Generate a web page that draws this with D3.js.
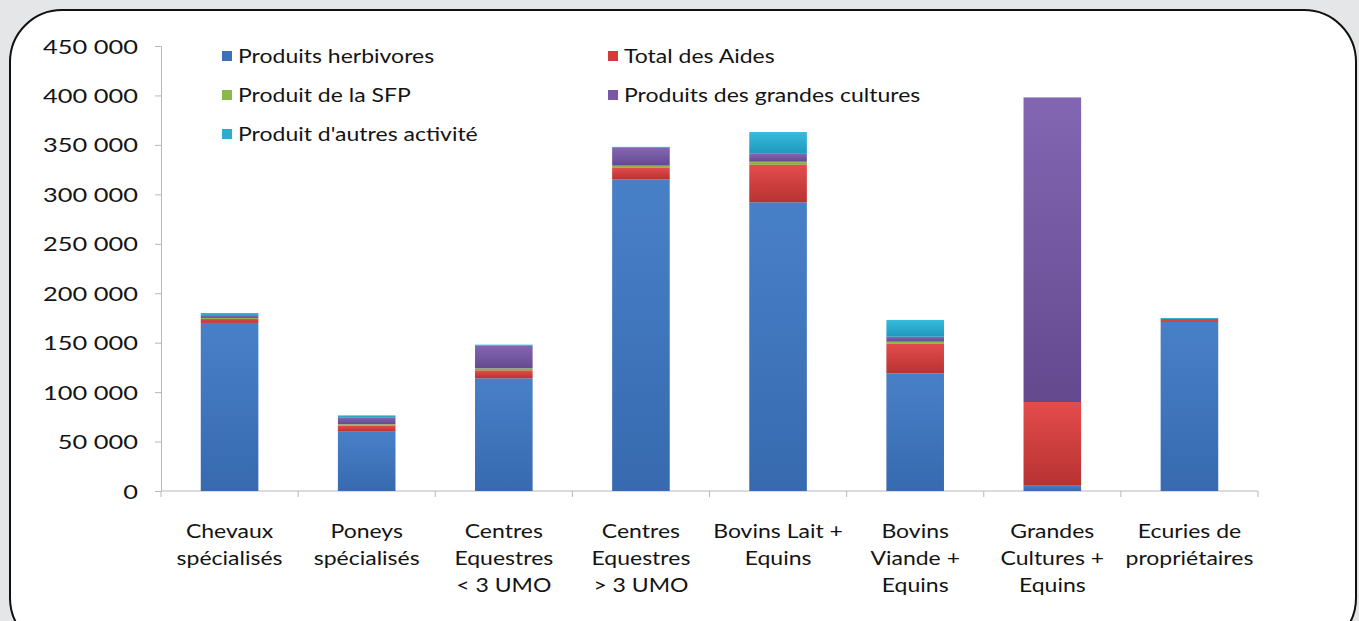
<!DOCTYPE html>
<html>
<head>
<meta charset="utf-8">
<script src="https://cdn.jsdelivr.net/npm/d3@7"></script>
<style>
  html, body { margin: 0; padding: 0; background: #e5e6e7; }
  svg { display: block; }
  text { font-family: Lato, "Noto Sans", sans-serif; fill: #141414; }
</style>
</head>
<body>
<script>
// ---- data (values in euros) ----
const categories = [
  ["Chevaux", "spécialisés"],
  ["Poneys", "spécialisés"],
  ["Centres", "Equestres", "< 3 UMO"],
  ["Centres", "Equestres", "> 3 UMO"],
  ["Bovins Lait +", "Equins"],
  ["Bovins", "Viande +", "Equins"],
  ["Grandes", "Cultures +", "Equins"],
  ["Ecuries de", "propriétaires"]
];
const produitsHerbivores = [170000, 60000, 114000, 315000, 292000, 119000, 6000, 171000];
const totalAides         = [4000, 6000, 8000, 12000, 38000, 30000, 84000, 2000];
const produitSFP         = [1000, 1500, 2000, 2000, 3000, 2000, 0, 0];
const produitsGrandesCultures = [2000, 7000, 23000, 18000, 8000, 5000, 308000, 1000];
const produitAutres      = [3000, 2000, 1000, 1000, 22000, 17000, 0, 1000];
const seriesNames = ["Produits herbivores", "Total des Aides", "Produit de la SFP",
                     "Produits des grandes cultures", "Produit d'autres activité"];
const yTicks = [0, 50000, 100000, 150000, 200000, 250000, 300000, 350000, 400000, 450000];

// ---- layout ----
const W = 1359, H = 621;
const SX = 1.15;      // horizontal text stretch (reference is stretched)
const SX_TICK = 1.27;
const plot = { left: 161, right: 1258, top: 46, bottom: 491 };

const keys = ["herb", "aides", "sfp", "gc", "autres"];
const colors = {
  herb:   ["#4880c8", "#376aaf"],
  aides:  ["#e44c4c", "#b83232"],
  sfp:    ["#9cc45a", "#78a038"],
  gc:     ["#8266b2", "#65498f"],
  autres: ["#36bcdc", "#1f98be"]
};
const swatch = { herb: "#3d70b8", aides: "#d43a3a", sfp: "#8ab84a", gc: "#7a58a8", autres: "#2aaed0" };

const table = categories.map((c, i) => ({
  cat: i,
  herb: produitsHerbivores[i], aides: totalAides[i], sfp: produitSFP[i],
  gc: produitsGrandesCultures[i], autres: produitAutres[i]
}));

const svg = d3.select("body").append("svg").attr("width", W).attr("height", H);
const defs = svg.append("defs");
keys.forEach(k => {
  const g = defs.append("linearGradient").attr("id", "g-" + k)
    .attr("x1", 0).attr("y1", 0).attr("x2", 0).attr("y2", 1);
  g.append("stop").attr("offset", "0%").attr("stop-color", colors[k][0]);
  g.append("stop").attr("offset", "100%").attr("stop-color", colors[k][1]);
});

// panel
svg.append("rect").attr("x", 0).attr("y", 0).attr("width", W).attr("height", H).attr("fill", "#e5e6e7");
svg.append("rect").attr("x", 10).attr("y", 10).attr("width", 1346).attr("height", 640)
  .attr("rx", 52).attr("ry", 52).attr("fill", "#ffffff").attr("stroke", "#111").attr("stroke-width", 2);

const x = d3.scaleBand().domain(categories.map((c, i) => i))
  .range([plot.left, plot.right]).paddingInner(0.58).paddingOuter(0.29);
const xOuter = d3.scaleBand().domain(categories.map((c, i) => i)).range([plot.left, plot.right]);
const y = d3.scaleLinear().domain([0, 450000]).range([plot.bottom, plot.top]);

const fmt = v => d3.format(",")(v).replace(/,/g, " ");

// y axis
const yAxis = svg.append("g").attr("transform", `translate(${plot.left},0)`)
  .call(d3.axisLeft(y).tickValues(yTicks).tickSize(6).tickFormat(fmt));
yAxis.select(".domain").attr("stroke", "#b8b8b8");
yAxis.selectAll(".tick line").attr("stroke", "#b8b8b8");
yAxis.selectAll(".tick text")
  .attr("x", null).attr("dy", null)
  .attr("transform", `translate(-23,7) scale(${SX_TICK},1)`)
  .attr("text-anchor", "end")
  .style("font-size", "20px").style("font-family", "Lato").attr("fill", "#141414");

// x axis (ticks at category boundaries)
const bounds = categories.map((c, i) => xOuter(i)).concat([plot.right]);
const xAxisG = svg.append("g").attr("transform", `translate(0,${plot.bottom})`);
xAxisG.append("line").attr("x1", plot.left).attr("x2", plot.right).attr("y1", 0).attr("y2", 0).attr("stroke", "#b8b8b8");
xAxisG.selectAll("line.tk").data(bounds).join("line").attr("class", "tk")
  .attr("x1", d => d).attr("x2", d => d).attr("y1", 0).attr("y2", 6).attr("stroke", "#b8b8b8");

// bars
const stacked = d3.stack().keys(keys)(table);
svg.append("g").selectAll("g").data(stacked).join("g")
  .attr("fill", d => `url(#g-${d.key})`)
  .selectAll("rect").data(d => d).join("rect")
  .attr("x", d => x(d.data.cat))
  .attr("width", x.bandwidth())
  .attr("y", d => y(d[1]))
  .attr("height", d => Math.max(0, y(d[0]) - y(d[1])));

// category labels
const lab = svg.append("g");
categories.forEach((lines, i) => {
  const cx = x(i) + x.bandwidth() / 2;
  lines.forEach((t, j) => {
    lab.append("text")
      .attr("transform", `translate(${cx},${538 + j * 27}) scale(${SX},1)`)
      .attr("text-anchor", "middle")
      .style("font-size", "20px")
      .text(t);
  });
});

// legend
const legendPos = [
  { k: "herb",   x: 222, y: 56 },
  { k: "aides",  x: 608, y: 56 },
  { k: "sfp",    x: 222, y: 95 },
  { k: "gc",     x: 608, y: 95 },
  { k: "autres", x: 222, y: 134 }
];
const leg = svg.append("g");
legendPos.forEach((p, i) => {
  leg.append("rect").attr("x", p.x).attr("y", p.y - 5).attr("width", 10).attr("height", 10)
    .attr("fill", swatch[p.k]);
  leg.append("text")
    .attr("transform", `translate(${p.x + 16},${p.y + 7}) scale(${SX},1)`)
    .style("font-size", "20px")
    .text(seriesNames[keys.indexOf(p.k)]);
});
</script>
</body>
</html>
